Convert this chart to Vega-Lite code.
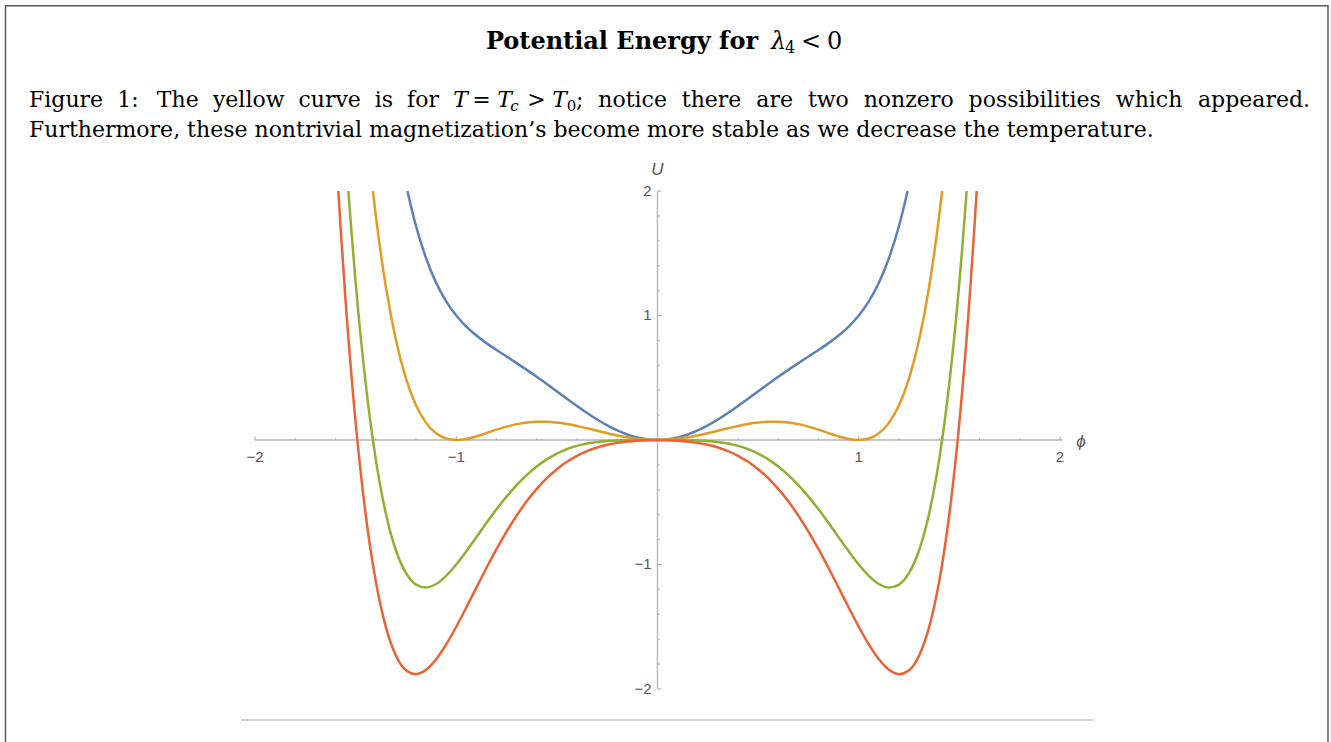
{
  "$schema": "https://vega.github.io/schema/vega-lite/v6.json",
  "width": 1331,
  "height": 742,
  "autosize": {"type": "fit", "contains": "padding"},
  "padding": 0,
  "background": "white",
  "config": {"view": {"stroke": null}},
  "datasets": {
    "curves": [
      {"curve":"T > Tc","phi":-1.2425,"U":2.0},{"curve":"T > Tc","phi":-1.22,"U":1.8434},{"curve":"T > Tc","phi":-1.2,"U":1.7188},{"curve":"T > Tc","phi":-1.15,"U":1.46},{"curve":"T > Tc","phi":-1.1,"U":1.2634},{"curve":"T > Tc","phi":-1.05,"U":1.1141},{"curve":"T > Tc","phi":-1.0,"U":1.0},{"curve":"T > Tc","phi":-0.95,"U":0.9111},{"curve":"T > Tc","phi":-0.9,"U":0.8392},{"curve":"T > Tc","phi":-0.85,"U":0.7781},{"curve":"T > Tc","phi":-0.8,"U":0.7229},{"curve":"T > Tc","phi":-0.75,"U":0.6702},{"curve":"T > Tc","phi":-0.7,"U":0.6174},{"curve":"T > Tc","phi":-0.65,"U":0.5634},{"curve":"T > Tc","phi":-0.6,"U":0.5075},{"curve":"T > Tc","phi":-0.55,"U":0.4497},{"curve":"T > Tc","phi":-0.5,"U":0.3906},{"curve":"T > Tc","phi":-0.45,"U":0.3313},{"curve":"T > Tc","phi":-0.4,"U":0.2729},{"curve":"T > Tc","phi":-0.35,"U":0.2168},{"curve":"T > Tc","phi":-0.3,"U":0.1645},{"curve":"T > Tc","phi":-0.25,"U":0.1174},{"curve":"T > Tc","phi":-0.2,"U":0.0769},{"curve":"T > Tc","phi":-0.15,"U":0.044},{"curve":"T > Tc","phi":-0.1,"U":0.0198},{"curve":"T > Tc","phi":-0.05,"U":0.005},{"curve":"T > Tc","phi":0,"U":0},{"curve":"T > Tc","phi":0.05,"U":0.005},{"curve":"T > Tc","phi":0.1,"U":0.0198},{"curve":"T > Tc","phi":0.15,"U":0.044},{"curve":"T > Tc","phi":0.2,"U":0.0769},{"curve":"T > Tc","phi":0.25,"U":0.1174},{"curve":"T > Tc","phi":0.3,"U":0.1645},{"curve":"T > Tc","phi":0.35,"U":0.2168},{"curve":"T > Tc","phi":0.4,"U":0.2729},{"curve":"T > Tc","phi":0.45,"U":0.3313},{"curve":"T > Tc","phi":0.5,"U":0.3906},{"curve":"T > Tc","phi":0.55,"U":0.4497},{"curve":"T > Tc","phi":0.6,"U":0.5075},{"curve":"T > Tc","phi":0.65,"U":0.5634},{"curve":"T > Tc","phi":0.7,"U":0.6174},{"curve":"T > Tc","phi":0.75,"U":0.6702},{"curve":"T > Tc","phi":0.8,"U":0.7229},{"curve":"T > Tc","phi":0.85,"U":0.7781},{"curve":"T > Tc","phi":0.9,"U":0.8392},{"curve":"T > Tc","phi":0.95,"U":0.9111},{"curve":"T > Tc","phi":1.0,"U":1.0},{"curve":"T > Tc","phi":1.05,"U":1.1141},{"curve":"T > Tc","phi":1.1,"U":1.2634},{"curve":"T > Tc","phi":1.15,"U":1.46},{"curve":"T > Tc","phi":1.2,"U":1.7188},{"curve":"T > Tc","phi":1.22,"U":1.8434},{"curve":"T > Tc","phi":1.2425,"U":2.0},
      {"curve":"T = Tc","phi":-1.4142,"U":2.0},{"curve":"T = Tc","phi":-1.4,"U":1.8063},{"curve":"T = Tc","phi":-1.35,"U":1.2329},{"curve":"T = Tc","phi":-1.3,"U":0.8046},{"curve":"T = Tc","phi":-1.25,"U":0.4944},{"curve":"T = Tc","phi":-1.2,"U":0.2788},{"curve":"T = Tc","phi":-1.15,"U":0.1375},{"curve":"T = Tc","phi":-1.1,"U":0.0534},{"curve":"T = Tc","phi":-1.05,"U":0.0116},{"curve":"T = Tc","phi":-1.0,"U":0},{"curve":"T = Tc","phi":-0.95,"U":0.0086},{"curve":"T = Tc","phi":-0.9,"U":0.0292},{"curve":"T = Tc","phi":-0.85,"U":0.0556},{"curve":"T = Tc","phi":-0.8,"U":0.0829},{"curve":"T = Tc","phi":-0.75,"U":0.1077},{"curve":"T = Tc","phi":-0.7,"U":0.1274},{"curve":"T = Tc","phi":-0.65,"U":0.1409},{"curve":"T = Tc","phi":-0.6,"U":0.1475},{"curve":"T = Tc","phi":-0.55,"U":0.1472},{"curve":"T = Tc","phi":-0.5,"U":0.1406},{"curve":"T = Tc","phi":-0.45,"U":0.1288},{"curve":"T = Tc","phi":-0.4,"U":0.1129},{"curve":"T = Tc","phi":-0.35,"U":0.0943},{"curve":"T = Tc","phi":-0.3,"U":0.0745},{"curve":"T = Tc","phi":-0.25,"U":0.0549},{"curve":"T = Tc","phi":-0.2,"U":0.0369},{"curve":"T = Tc","phi":-0.15,"U":0.0215},{"curve":"T = Tc","phi":-0.1,"U":0.0098},{"curve":"T = Tc","phi":-0.05,"U":0.0025},{"curve":"T = Tc","phi":0,"U":0},{"curve":"T = Tc","phi":0.05,"U":0.0025},{"curve":"T = Tc","phi":0.1,"U":0.0098},{"curve":"T = Tc","phi":0.15,"U":0.0215},{"curve":"T = Tc","phi":0.2,"U":0.0369},{"curve":"T = Tc","phi":0.25,"U":0.0549},{"curve":"T = Tc","phi":0.3,"U":0.0745},{"curve":"T = Tc","phi":0.35,"U":0.0943},{"curve":"T = Tc","phi":0.4,"U":0.1129},{"curve":"T = Tc","phi":0.45,"U":0.1288},{"curve":"T = Tc","phi":0.5,"U":0.1406},{"curve":"T = Tc","phi":0.55,"U":0.1472},{"curve":"T = Tc","phi":0.6,"U":0.1475},{"curve":"T = Tc","phi":0.65,"U":0.1409},{"curve":"T = Tc","phi":0.7,"U":0.1274},{"curve":"T = Tc","phi":0.75,"U":0.1077},{"curve":"T = Tc","phi":0.8,"U":0.0829},{"curve":"T = Tc","phi":0.85,"U":0.0556},{"curve":"T = Tc","phi":0.9,"U":0.0292},{"curve":"T = Tc","phi":0.95,"U":0.0086},{"curve":"T = Tc","phi":1.0,"U":0},{"curve":"T = Tc","phi":1.05,"U":0.0116},{"curve":"T = Tc","phi":1.1,"U":0.0534},{"curve":"T = Tc","phi":1.15,"U":0.1375},{"curve":"T = Tc","phi":1.2,"U":0.2788},{"curve":"T = Tc","phi":1.25,"U":0.4944},{"curve":"T = Tc","phi":1.3,"U":0.8046},{"curve":"T = Tc","phi":1.35,"U":1.2329},{"curve":"T = Tc","phi":1.4,"U":1.8063},{"curve":"T = Tc","phi":1.4142,"U":2.0},
      {"curve":"T = T0","phi":-1.536,"U":2.0},{"curve":"T = T0","phi":-1.52,"U":1.6569},{"curve":"T = T0","phi":-1.5,"U":1.2656},{"curve":"T = T0","phi":-1.45,"U":0.4531},{"curve":"T = T0","phi":-1.4,"U":-0.1537},{"curve":"T = T0","phi":-1.35,"U":-0.5896},{"curve":"T = T0","phi":-1.3,"U":-0.8854},{"curve":"T = T0","phi":-1.25,"U":-1.0681},{"curve":"T = T0","phi":-1.2,"U":-1.1612},{"curve":"T = T0","phi":-1.15,"U":-1.185},{"curve":"T = T0","phi":-1.1,"U":-1.1566},{"curve":"T = T0","phi":-1.05,"U":-1.0909},{"curve":"T = T0","phi":-1.0,"U":-1.0},{"curve":"T = T0","phi":-0.95,"U":-0.8939},{"curve":"T = T0","phi":-0.9,"U":-0.7808},{"curve":"T = T0","phi":-0.85,"U":-0.6669},{"curve":"T = T0","phi":-0.8,"U":-0.5571},{"curve":"T = T0","phi":-0.75,"U":-0.4548},{"curve":"T = T0","phi":-0.7,"U":-0.3626},{"curve":"T = T0","phi":-0.65,"U":-0.2816},{"curve":"T = T0","phi":-0.6,"U":-0.2125},{"curve":"T = T0","phi":-0.55,"U":-0.1553},{"curve":"T = T0","phi":-0.5,"U":-0.1094},{"curve":"T = T0","phi":-0.45,"U":-0.0737},{"curve":"T = T0","phi":-0.4,"U":-0.0471},{"curve":"T = T0","phi":-0.35,"U":-0.0282},{"curve":"T = T0","phi":-0.3,"U":-0.0155},{"curve":"T = T0","phi":-0.25,"U":-0.0076},{"curve":"T = T0","phi":-0.2,"U":-0.0031},{"curve":"T = T0","phi":-0.15,"U":-0.001},{"curve":"T = T0","phi":-0.1,"U":-0.0002},{"curve":"T = T0","phi":-0.05,"U":0},{"curve":"T = T0","phi":0,"U":0},{"curve":"T = T0","phi":0.05,"U":0},{"curve":"T = T0","phi":0.1,"U":-0.0002},{"curve":"T = T0","phi":0.15,"U":-0.001},{"curve":"T = T0","phi":0.2,"U":-0.0031},{"curve":"T = T0","phi":0.25,"U":-0.0076},{"curve":"T = T0","phi":0.3,"U":-0.0155},{"curve":"T = T0","phi":0.35,"U":-0.0282},{"curve":"T = T0","phi":0.4,"U":-0.0471},{"curve":"T = T0","phi":0.45,"U":-0.0737},{"curve":"T = T0","phi":0.5,"U":-0.1094},{"curve":"T = T0","phi":0.55,"U":-0.1553},{"curve":"T = T0","phi":0.6,"U":-0.2125},{"curve":"T = T0","phi":0.65,"U":-0.2816},{"curve":"T = T0","phi":0.7,"U":-0.3626},{"curve":"T = T0","phi":0.75,"U":-0.4548},{"curve":"T = T0","phi":0.8,"U":-0.5571},{"curve":"T = T0","phi":0.85,"U":-0.6669},{"curve":"T = T0","phi":0.9,"U":-0.7808},{"curve":"T = T0","phi":0.95,"U":-0.8939},{"curve":"T = T0","phi":1.0,"U":-1.0},{"curve":"T = T0","phi":1.05,"U":-1.0909},{"curve":"T = T0","phi":1.1,"U":-1.1566},{"curve":"T = T0","phi":1.15,"U":-1.185},{"curve":"T = T0","phi":1.2,"U":-1.1612},{"curve":"T = T0","phi":1.25,"U":-1.0681},{"curve":"T = T0","phi":1.3,"U":-0.8854},{"curve":"T = T0","phi":1.35,"U":-0.5896},{"curve":"T = T0","phi":1.4,"U":-0.1537},{"curve":"T = T0","phi":1.45,"U":0.4531},{"curve":"T = T0","phi":1.5,"U":1.2656},{"curve":"T = T0","phi":1.52,"U":1.6569},{"curve":"T = T0","phi":1.536,"U":2.0},
      {"curve":"T < T0","phi":-1.586,"U":2.0},{"curve":"T < T0","phi":-1.57,"U":1.5921},{"curve":"T < T0","phi":-1.55,"U":1.1219},{"curve":"T < T0","phi":-1.5,"U":0.1406},{"curve":"T < T0","phi":-1.45,"U":-0.5982},{"curve":"T < T0","phi":-1.4,"U":-1.1337},{"curve":"T < T0","phi":-1.35,"U":-1.5009},{"curve":"T < T0","phi":-1.3,"U":-1.7304},{"curve":"T < T0","phi":-1.25,"U":-1.8494},{"curve":"T < T0","phi":-1.2,"U":-1.8812},{"curve":"T < T0","phi":-1.15,"U":-1.8463},{"curve":"T < T0","phi":-1.1,"U":-1.7616},{"curve":"T < T0","phi":-1.05,"U":-1.6422},{"curve":"T < T0","phi":-1.0,"U":-1.5},{"curve":"T < T0","phi":-0.95,"U":-1.3452},{"curve":"T < T0","phi":-0.9,"U":-1.1858},{"curve":"T < T0","phi":-0.85,"U":-1.0282},{"curve":"T < T0","phi":-0.8,"U":-0.8771},{"curve":"T < T0","phi":-0.75,"U":-0.736},{"curve":"T < T0","phi":-0.7,"U":-0.6076},{"curve":"T < T0","phi":-0.65,"U":-0.4929},{"curve":"T < T0","phi":-0.6,"U":-0.3925},{"curve":"T < T0","phi":-0.55,"U":-0.3066},{"curve":"T < T0","phi":-0.5,"U":-0.2344},{"curve":"T < T0","phi":-0.45,"U":-0.1749},{"curve":"T < T0","phi":-0.4,"U":-0.1271},{"curve":"T < T0","phi":-0.35,"U":-0.0894},{"curve":"T < T0","phi":-0.3,"U":-0.0605},{"curve":"T < T0","phi":-0.25,"U":-0.0388},{"curve":"T < T0","phi":-0.2,"U":-0.0231},{"curve":"T < T0","phi":-0.15,"U":-0.0123},{"curve":"T < T0","phi":-0.1,"U":-0.0052},{"curve":"T < T0","phi":-0.05,"U":-0.0013},{"curve":"T < T0","phi":0,"U":0},{"curve":"T < T0","phi":0.05,"U":-0.0013},{"curve":"T < T0","phi":0.1,"U":-0.0052},{"curve":"T < T0","phi":0.15,"U":-0.0123},{"curve":"T < T0","phi":0.2,"U":-0.0231},{"curve":"T < T0","phi":0.25,"U":-0.0388},{"curve":"T < T0","phi":0.3,"U":-0.0605},{"curve":"T < T0","phi":0.35,"U":-0.0894},{"curve":"T < T0","phi":0.4,"U":-0.1271},{"curve":"T < T0","phi":0.45,"U":-0.1749},{"curve":"T < T0","phi":0.5,"U":-0.2344},{"curve":"T < T0","phi":0.55,"U":-0.3066},{"curve":"T < T0","phi":0.6,"U":-0.3925},{"curve":"T < T0","phi":0.65,"U":-0.4929},{"curve":"T < T0","phi":0.7,"U":-0.6076},{"curve":"T < T0","phi":0.75,"U":-0.736},{"curve":"T < T0","phi":0.8,"U":-0.8771},{"curve":"T < T0","phi":0.85,"U":-1.0282},{"curve":"T < T0","phi":0.9,"U":-1.1858},{"curve":"T < T0","phi":0.95,"U":-1.3452},{"curve":"T < T0","phi":1.0,"U":-1.5},{"curve":"T < T0","phi":1.05,"U":-1.6422},{"curve":"T < T0","phi":1.1,"U":-1.7616},{"curve":"T < T0","phi":1.15,"U":-1.8463},{"curve":"T < T0","phi":1.2,"U":-1.8812},{"curve":"T < T0","phi":1.25,"U":-1.8494},{"curve":"T < T0","phi":1.3,"U":-1.7304},{"curve":"T < T0","phi":1.35,"U":-1.5009},{"curve":"T < T0","phi":1.4,"U":-1.1337},{"curve":"T < T0","phi":1.45,"U":-0.5982},{"curve":"T < T0","phi":1.5,"U":0.1406},{"curve":"T < T0","phi":1.55,"U":1.1219},{"curve":"T < T0","phi":1.57,"U":1.5921},{"curve":"T < T0","phi":1.586,"U":2.0}
    ],
    "ticks": [
      {"v":-2,"kind":"major"},{"v":-1.8,"kind":"minor"},{"v":-1.6,"kind":"minor"},{"v":-1.4,"kind":"minor"},{"v":-1.2,"kind":"minor"},{"v":-1,"kind":"major"},{"v":-0.8,"kind":"minor"},{"v":-0.6,"kind":"minor"},{"v":-0.4,"kind":"minor"},{"v":-0.2,"kind":"minor"},{"v":0.2,"kind":"minor"},{"v":0.4,"kind":"minor"},{"v":0.6,"kind":"minor"},{"v":0.8,"kind":"minor"},{"v":1,"kind":"major"},{"v":1.2,"kind":"minor"},{"v":1.4,"kind":"minor"},{"v":1.6,"kind":"minor"},{"v":1.8,"kind":"minor"},{"v":2,"kind":"major"}
    ],
    "ticklabels": [
      {"v":-2,"t":"−2"},{"v":-1,"t":"−1"},{"v":1,"t":"1"},{"v":2,"t":"2"}
    ],
    "axes": [
      {"axis":"x","a":-2,"b":2.012},{"axis":"y","a":-2,"b":2}
    ],
    "frame": [
      {"x1":-3.2398,"x2":3.3317,"y1":3.4884,"y2":-3.0}
    ],
    "bottomrule": [
      {"x1":-2.0696,"x2":2.164,"y":-2.249}
    ],
    "texts": [
      {"t":"Potential Energy for","px":-0.8527,"py":3.1382,"s":"tbold"},
      {"t":"λ","px":0.5640,"py":3.1382,"s":"tit"},
      {"t":"4","px":0.6335,"py":3.1084,"s":"tsub"},
      {"t":"<","px":0.7130,"py":3.1382,"s":"trom"},
      {"t":"0","px":0.8422,"py":3.1382,"s":"trom"},
      {"t":"Figure","px":-3.123,"py":2.6747,"s":"cleft"},
      {"t":"1:","px":-2.6842,"py":2.6747,"s":"cleft"},
      {"t":"The","px":-2.488,"py":2.6747,"s":"cleft"},
      {"t":"yellow","px":-2.2092,"py":2.6747,"s":"cleft"},
      {"t":"curve","px":-1.7843,"py":2.6747,"s":"cleft"},
      {"t":"is","px":-1.4047,"py":2.6747,"s":"cleft"},
      {"t":"for","px":-1.2447,"py":2.6747,"s":"cleft"},
      {"t":"T","px":-0.9789,"py":2.6747,"s":"cit"},
      {"t":"=","px":-0.8745,"py":2.6747,"s":"ccen"},
      {"t":"T","px":-0.7602,"py":2.6747,"s":"cit"},
      {"t":"c","px":-0.7106,"py":2.6426,"s":"csubit"},
      {"t":">","px":-0.6012,"py":2.6747,"s":"ccen"},
      {"t":"T","px":-0.487,"py":2.6747,"s":"cit"},
      {"t":"0","px":-0.4273,"py":2.6426,"s":"csub"},
      {"t":";","px":-0.405,"py":2.6747,"s":"cleft"},
      {"t":"notice","px":-0.2942,"py":2.6747,"s":"cleft"},
      {"t":"there","px":0.1207,"py":2.6747,"s":"cleft"},
      {"t":"are","px":0.4909,"py":2.6747,"s":"cleft"},
      {"t":"two","px":0.7473,"py":2.6747,"s":"cleft"},
      {"t":"nonzero","px":1.0246,"py":2.6747,"s":"cleft"},
      {"t":"possibilities","px":1.5458,"py":2.6747,"s":"cleft"},
      {"t":"which","px":2.2773,"py":2.6747,"s":"cleft"},
      {"t":"appeared.","px":3.2422,"py":2.6747,"s":"cright"},
      {"t":"Furthermore, these nontrivial magnetization’s become more stable as we decrease the temperature.","px":-3.123,"py":2.4337,"s":"cleft"}
    ]
  },
  "layer": [
    {
      "data": {"name": "frame"},
      "mark": {"type": "rect", "fillOpacity": 0, "stroke": "#5a5a5a", "strokeWidth": 1.5, "clip": true},
      "encoding": {
        "x": {"field": "x1", "type": "quantitative", "scale": {"domain": [-3.2671, 3.3466], "nice": false, "zero": false}, "axis": null},
        "x2": {"field": "x2"},
        "y": {"field": "y1", "type": "quantitative", "scale": {"domain": [-2.4257, 3.5341], "nice": false, "zero": false}, "axis": null},
        "y2": {"field": "y2"}
      }
    },
    {
      "data": {"name": "bottomrule"},
      "mark": {"type": "rule", "stroke": "#c4c4c4", "strokeWidth": 1.5},
      "encoding": {
        "x": {"field": "x1", "type": "quantitative"},
        "x2": {"field": "x2"},
        "y": {"field": "y", "type": "quantitative"}
      }
    },
    {
      "data": {"name": "axes"},
      "transform": [{"filter": "datum.axis === 'x'"}],
      "mark": {"type": "rule", "stroke": "#b5b5b5", "strokeWidth": 1.4},
      "encoding": {
        "x": {"field": "a", "type": "quantitative"},
        "x2": {"field": "b"},
        "y": {"datum": 0, "type": "quantitative"}
      }
    },
    {
      "data": {"name": "axes"},
      "transform": [{"filter": "datum.axis === 'y'"}],
      "mark": {"type": "rule", "stroke": "#b5b5b5", "strokeWidth": 1.4},
      "encoding": {
        "y": {"field": "a", "type": "quantitative"},
        "y2": {"field": "b"},
        "x": {"datum": 0, "type": "quantitative"}
      }
    },
    {
      "data": {"name": "ticks"},
      "transform": [{"filter": "datum.kind === 'major'"}],
      "mark": {"type": "rule", "stroke": "#a8a8a8", "strokeWidth": 1},
      "encoding": {
        "x": {"field": "v", "type": "quantitative"},
        "y": {"datum": 0, "type": "quantitative"},
        "y2": {"datum": 0.03}
      }
    },
    {
      "data": {"name": "ticks"},
      "transform": [{"filter": "datum.kind === 'minor'"}],
      "mark": {"type": "rule", "stroke": "#a8a8a8", "strokeWidth": 1},
      "encoding": {
        "x": {"field": "v", "type": "quantitative"},
        "y": {"datum": 0, "type": "quantitative"},
        "y2": {"datum": 0.015}
      }
    },
    {
      "data": {"name": "ticks"},
      "transform": [{"filter": "datum.kind === 'major'"}],
      "mark": {"type": "rule", "stroke": "#a8a8a8", "strokeWidth": 1},
      "encoding": {
        "y": {"field": "v", "type": "quantitative"},
        "x": {"datum": 0, "type": "quantitative"},
        "x2": {"datum": 0.019}
      }
    },
    {
      "data": {"name": "ticks"},
      "transform": [{"filter": "datum.kind === 'minor'"}],
      "mark": {"type": "rule", "stroke": "#a8a8a8", "strokeWidth": 1},
      "encoding": {
        "y": {"field": "v", "type": "quantitative"},
        "x": {"datum": 0, "type": "quantitative"},
        "x2": {"datum": 0.0095}
      }
    },
    {
      "data": {"name": "ticklabels"},
      "mark": {"type": "text", "font": "Liberation Sans", "fontSize": 15, "fill": "#555555", "align": "center", "baseline": "alphabetic", "dy": 22},
      "encoding": {
        "x": {"field": "v", "type": "quantitative"},
        "y": {"datum": 0, "type": "quantitative"},
        "text": {"field": "t"}
      }
    },
    {
      "data": {"name": "ticklabels"},
      "mark": {"type": "text", "font": "Liberation Sans", "fontSize": 15, "fill": "#555555", "align": "right", "baseline": "middle", "dx": -6},
      "encoding": {
        "y": {"field": "v", "type": "quantitative"},
        "x": {"datum": 0, "type": "quantitative"},
        "text": {"field": "t"}
      }
    },
    {
      "data": {"values": [{"t": "U", "v": 2}]},
      "mark": {"type": "text", "font": "Liberation Sans", "fontSize": 17, "fontStyle": "italic", "fill": "#555555", "align": "center", "baseline": "middle", "dy": -21},
      "encoding": {
        "y": {"field": "v", "type": "quantitative"},
        "x": {"datum": 0, "type": "quantitative"},
        "text": {"field": "t"}
      }
    },
    {
      "data": {"values": [{"t": "ϕ", "v": 2}]},
      "mark": {"type": "text", "font": "Liberation Sans", "fontSize": 17, "fontStyle": "italic", "fill": "#555555", "align": "center", "baseline": "middle", "dx": 21, "dy": 2},
      "encoding": {
        "x": {"field": "v", "type": "quantitative"},
        "y": {"datum": 0, "type": "quantitative"},
        "text": {"field": "t"}
      }
    },
    {
      "data": {"name": "curves"},
      "mark": {"type": "line", "strokeWidth": 2.5, "interpolate": "monotone", "clip": true},
      "encoding": {
        "x": {"field": "phi", "type": "quantitative"},
        "y": {"field": "U", "type": "quantitative"},
        "color": {"field": "curve", "type": "nominal", "scale": {"domain": ["T > Tc", "T = Tc", "T = T0", "T < T0"], "range": ["#5E81B5", "#E19C24", "#8FB032", "#EB6235"]}, "legend": null}
      }
    },
    {
      "data": {"name": "texts"},
      "transform": [{"filter": "datum.s === 'tbold'"}],
      "mark": {"type": "text", "font": "DejaVu Serif", "fontSize": 24, "fontWeight": "bold", "fill": "black", "align": "left", "baseline": "alphabetic"},
      "encoding": {"x": {"field": "px", "type": "quantitative"}, "y": {"field": "py", "type": "quantitative"}, "text": {"field": "t"}}
    },
    {
      "data": {"name": "texts"},
      "transform": [{"filter": "datum.s === 'tit'"}],
      "mark": {"type": "text", "font": "DejaVu Serif", "fontSize": 24, "fontStyle": "italic", "fill": "black", "align": "left", "baseline": "alphabetic"},
      "encoding": {"x": {"field": "px", "type": "quantitative"}, "y": {"field": "py", "type": "quantitative"}, "text": {"field": "t"}}
    },
    {
      "data": {"name": "texts"},
      "transform": [{"filter": "datum.s === 'trom'"}],
      "mark": {"type": "text", "font": "DejaVu Serif", "fontSize": 24, "fill": "black", "align": "left", "baseline": "alphabetic"},
      "encoding": {"x": {"field": "px", "type": "quantitative"}, "y": {"field": "py", "type": "quantitative"}, "text": {"field": "t"}}
    },
    {
      "data": {"name": "texts"},
      "transform": [{"filter": "datum.s === 'tsub'"}],
      "mark": {"type": "text", "font": "DejaVu Serif", "fontSize": 16, "fill": "black", "align": "left", "baseline": "alphabetic"},
      "encoding": {"x": {"field": "px", "type": "quantitative"}, "y": {"field": "py", "type": "quantitative"}, "text": {"field": "t"}}
    },
    {
      "data": {"name": "texts"},
      "transform": [{"filter": "datum.s === 'cleft'"}],
      "mark": {"type": "text", "font": "DejaVu Serif", "fontSize": 22, "fill": "black", "align": "left", "baseline": "alphabetic"},
      "encoding": {"x": {"field": "px", "type": "quantitative"}, "y": {"field": "py", "type": "quantitative"}, "text": {"field": "t"}}
    },
    {
      "data": {"name": "texts"},
      "transform": [{"filter": "datum.s === 'ccen'"}],
      "mark": {"type": "text", "font": "DejaVu Serif", "fontSize": 22, "fill": "black", "align": "center", "baseline": "alphabetic"},
      "encoding": {"x": {"field": "px", "type": "quantitative"}, "y": {"field": "py", "type": "quantitative"}, "text": {"field": "t"}}
    },
    {
      "data": {"name": "texts"},
      "transform": [{"filter": "datum.s === 'cright'"}],
      "mark": {"type": "text", "font": "DejaVu Serif", "fontSize": 22, "fill": "black", "align": "right", "baseline": "alphabetic"},
      "encoding": {"x": {"field": "px", "type": "quantitative"}, "y": {"field": "py", "type": "quantitative"}, "text": {"field": "t"}}
    },
    {
      "data": {"name": "texts"},
      "transform": [{"filter": "datum.s === 'cit'"}],
      "mark": {"type": "text", "font": "DejaVu Serif", "fontSize": 22, "fontStyle": "italic", "fill": "black", "align": "center", "baseline": "alphabetic"},
      "encoding": {"x": {"field": "px", "type": "quantitative"}, "y": {"field": "py", "type": "quantitative"}, "text": {"field": "t"}}
    },
    {
      "data": {"name": "texts"},
      "transform": [{"filter": "datum.s === 'csubit'"}],
      "mark": {"type": "text", "font": "DejaVu Serif", "fontSize": 15, "fontStyle": "italic", "fill": "black", "align": "center", "baseline": "alphabetic"},
      "encoding": {"x": {"field": "px", "type": "quantitative"}, "y": {"field": "py", "type": "quantitative"}, "text": {"field": "t"}}
    },
    {
      "data": {"name": "texts"},
      "transform": [{"filter": "datum.s === 'csub'"}],
      "mark": {"type": "text", "font": "DejaVu Serif", "fontSize": 15, "fill": "black", "align": "center", "baseline": "alphabetic"},
      "encoding": {"x": {"field": "px", "type": "quantitative"}, "y": {"field": "py", "type": "quantitative"}, "text": {"field": "t"}}
    }
  ]
}
